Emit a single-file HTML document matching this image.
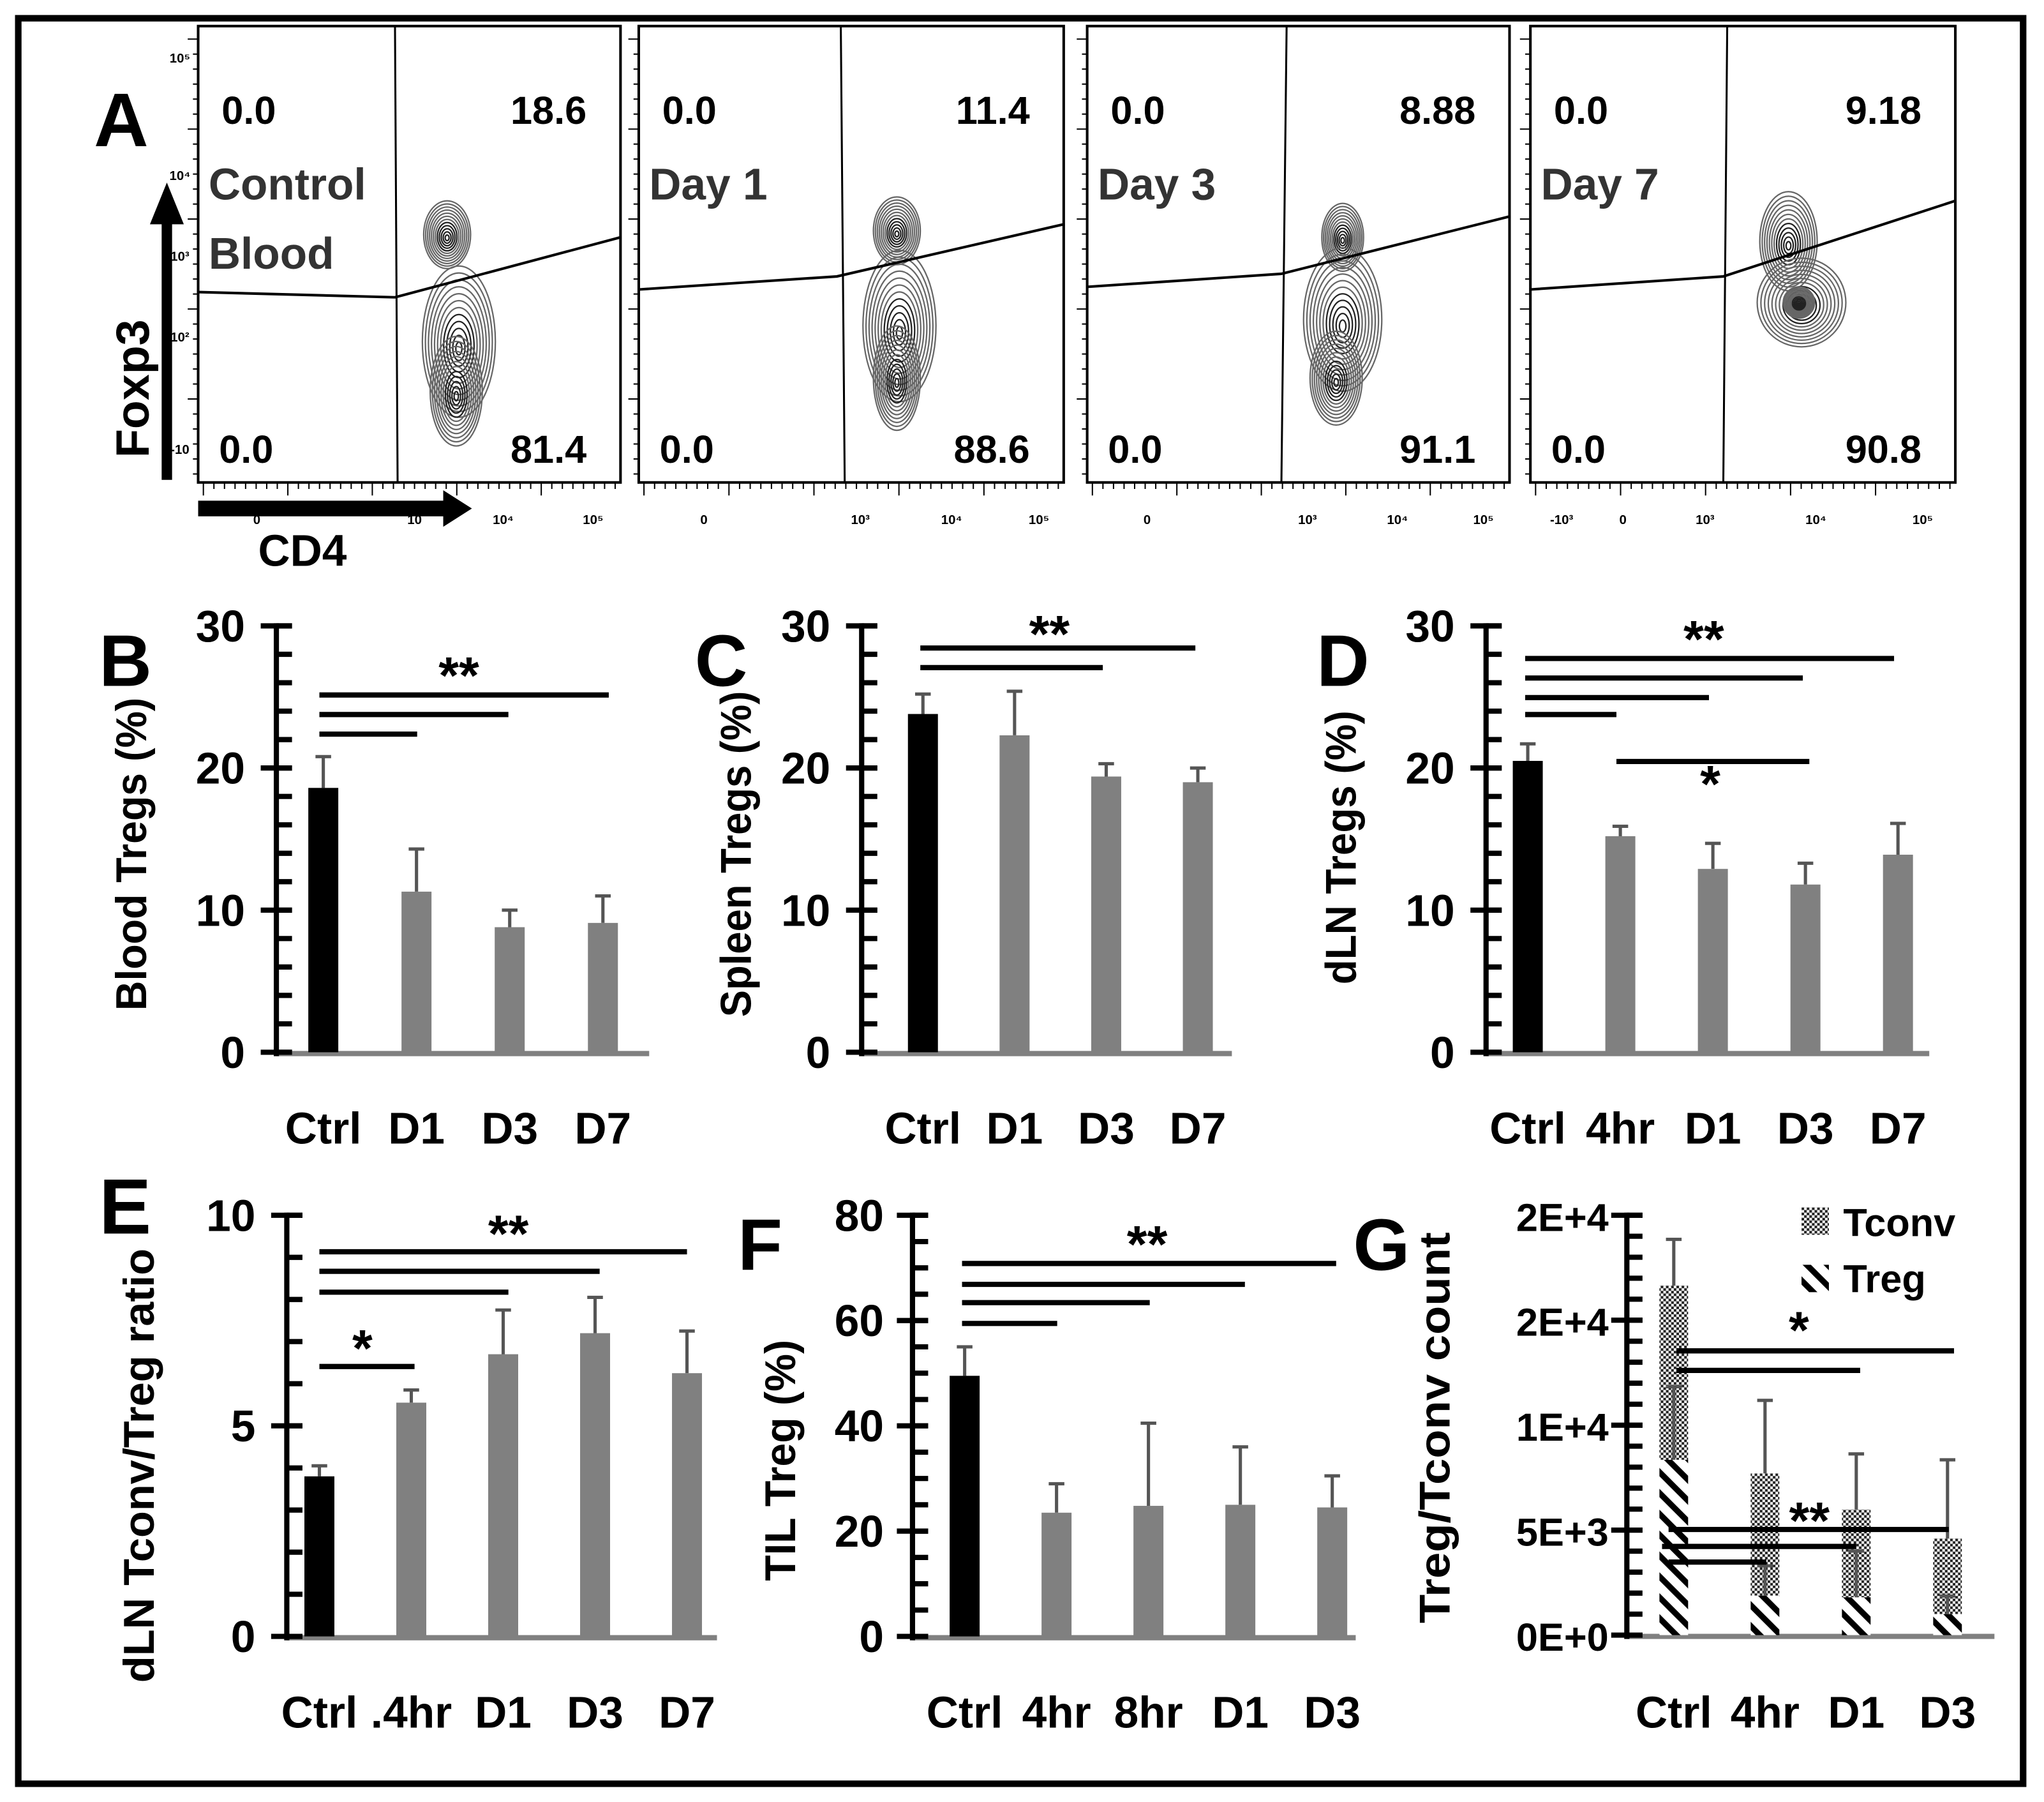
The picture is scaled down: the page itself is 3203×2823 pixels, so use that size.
<!DOCTYPE html>
<html><head><meta charset="utf-8"><style>
html,body{margin:0;padding:0;background:#fff}
svg{display:block}
text{font-family:"Liberation Sans",sans-serif;font-weight:bold}
</style></head><body>
<svg id="fig" xmlns="http://www.w3.org/2000/svg" width="3203" height="2823" viewBox="0 0 1568 1382">
<defs>
<pattern id="checker" width="4" height="4" patternUnits="userSpaceOnUse"><rect width="4" height="4" fill="#fff"/><rect width="2" height="2" fill="#222"/><rect x="2" y="2" width="2" height="2" fill="#222"/></pattern>
<pattern id="hatch" width="16" height="16" patternUnits="userSpaceOnUse"><rect width="16" height="16" fill="#fff"/><path d="M-4,-4 L20,20 M-4,12 L4,20 M12,-4 L20,4" stroke="#000" stroke-width="4.5"/></pattern>
</defs>
<rect x="14" y="14" width="1538" height="1354" fill="none" stroke="#000" stroke-width="5"/>
<g id="flow"></g>
<g id="bars"></g>
</svg>
<script>
// ---- Chart data ----
const bCats=['Ctrl','D1','D3','D7'];
const bVals=[18.6,11.3,8.8,9.1];
const bErr=[20.8,14.3,10.0,11.0];
const bTicks=[0,10,20,30];
const cCats=['Ctrl','D1','D3','D7'];
const cVals=[23.8,22.3,19.4,19.0];
const cErr=[25.2,25.4,20.3,20.0];
const cTicks=[0,10,20,30];
const dCats=['Ctrl','4hr','D1','D3','D7'];
const dVals=[20.5,15.2,12.9,11.8,13.9];
const dErr=[21.7,15.9,14.7,13.3,16.1];
const dTicks=[0,10,20,30];
const eCats=['Ctrl','.4hr','D1','D3','D7'];
const eVals=[3.8,5.55,6.7,7.2,6.25];
const eErr=[4.05,5.85,7.75,8.05,7.25];
const eTicks=[0,5,10];
const fCats=['Ctrl','4hr','8hr','D1','D3'];
const fVals=[49.5,23.5,24.8,25.0,24.5];
const fErr=[55,29,40.5,36,30.5];
const fTicks=[0,20,40,60,80];
const gCats=['Ctrl','4hr','D1','D3'];
const gTreg=[8350,1880,1800,1000];
const gTregErr=[11830,3300,4000,1860];
const gTotal=[16650,7700,5980,4600];
const gTotalErr=[18850,11180,8630,8350];
const gTicks=[0,5000,10000,15000,20000];
const gTickLabels=['0E+0','5E+3','1E+4','2E+4','2E+4'];

const NS='http://www.w3.org/2000/svg';
function mk(parent,tag,attrs,txt){const e=document.createElementNS(NS,tag);for(const k in attrs)e.setAttribute(k,attrs[k]);if(txt!==undefined)e.textContent=txt;parent.appendChild(e);return e;}
const bars=document.getElementById('bars');

function panel(o){
  const g=mk(bars,'g',{});
  
  
  const max=o.ticks[o.ticks.length-1];
  const y=v=>o.base-v/max*(o.base-o.top);
  const x=i=>o.x0+i*o.dx;
  let e=mk(g,'line',{x1:o.ax,x2:o.axEnd,y1:o.base+1,y2:o.base+1,stroke:'#808080','stroke-width':4});
  
  
  for(let v=0;v<=max+1e-9;v+=o.minor){
    e=mk(g,'line',{x1:o.ax,x2:o.ax+12,y1:y(v),y2:y(v),stroke:'#000','stroke-width':4});
    
    
  }
  o.ticks.forEach((t,i)=>{
    e=mk(g,'line',{x1:o.ax-12,x2:o.ax+12,y1:y(t),y2:y(t),stroke:'#000','stroke-width':4});
    
    
    e=mk(g,'text',{x:o.ax-o.lblOff,y:y(t)+12,'text-anchor':'end','font-size':o.tfs||34},o.tickLabels?o.tickLabels[i]:t);
    
    
  });
  e=mk(g,'line',{x1:o.ax,x2:o.ax,y1:o.top-2,y2:o.base+3,stroke:'#000','stroke-width':4});
  
  
  o.cats.forEach((c,i)=>{
    e=mk(g,'text',{x:x(i),y:o.labY,'text-anchor':'middle','font-size':34},c);
    
    
  });
  if(o.vals){
    o.vals.forEach((v,i)=>{
      const cx=x(i);
      e=mk(g,'line',{x1:cx,x2:cx,y1:y(o.err[i]),y2:y(v),stroke:'#555','stroke-width':2.5});
      
      
      e=mk(g,'line',{x1:cx-6,x2:cx+6,y1:y(o.err[i]),y2:y(o.err[i]),stroke:'#555','stroke-width':2.5});
      
      
      e=mk(g,'rect',{x:cx-11.5,y:y(v),width:23,height:o.base-y(v),fill:i==0?'#000':'#808080'});
      
      
    });
  }
  e=mk(g,'text',{x:o.letX,y:o.letY,'font-size':o.letFs||56},o.letter);
  
  
  e=mk(g,'text',{transform:`translate(${o.titleX},${o.titleY}) rotate(-90)`,'text-anchor':'middle','font-size':33,textLength:o.titleLen,lengthAdjust:'spacingAndGlyphs'},o.title);
  
  
  (o.sig||[]).forEach(s=>{
    e=mk(g,'line',{x1:s[0],x2:s[1],y1:s[2],y2:s[2],stroke:'#000','stroke-width':4});
    
    
  });
  (o.stars||[]).forEach(s=>{
    e=mk(g,'text',{x:s[0],y:s[1],'text-anchor':'middle','font-size':40},s[2]);
    
    
  });
  return {g,y,x};
}

panel({id:'b',letter:'B',letX:76,letY:526,cats:bCats,vals:bVals,err:bErr,ticks:bTicks,minor:2,ax:212,axEnd:498,top:480,base:807,x0:248,dx:71.5,labY:877,lblOff:24,
  title:'Blood Tregs (%)',titleX:112,titleY:655,titleLen:240,
  sig:[[245,320,563],[245,390,548],[245,467,533]],stars:[[352,532,'**']]});
panel({id:'c',letter:'C',letX:533,letY:526,cats:cCats,vals:cVals,err:cErr,ticks:cTicks,minor:2,ax:661,axEnd:945,top:480,base:807,x0:708,dx:70.3,labY:877,lblOff:24,
  title:'Spleen Tregs (%)',titleX:576,titleY:655,titleLen:250,
  sig:[[706,846,512],[706,917,497]],stars:[[805,500,'**']]});
panel({id:'d',letter:'D',letX:1010,letY:526,cats:dCats,vals:dVals,err:dErr,ticks:dTicks,minor:2,ax:1140,axEnd:1480,top:480,base:807,x0:1172,dx:71,labY:877,lblOff:24,
  title:'dLN Tregs (%)',titleX:1040,titleY:650,titleLen:210,
  sig:[[1170,1240,548],[1170,1311,535],[1170,1383,520],[1170,1453,505]],stars:[[1307,504,'**'],[1312,615,'*']]});
(function(){const e=mk(bars,'line',{x1:1240,x2:1388,y1:584,y2:584,stroke:'#000','stroke-width':4});

})();
panel({id:'e',letter:'E',letX:76,letY:946,letFs:60,cats:eCats,vals:eVals,err:eErr,ticks:eTicks,minor:1,ax:220,axEnd:550,top:932,base:1255,x0:245,dx:70.5,labY:1325,lblOff:24,
  title:'dLN Tconv/Treg ratio',titleX:118,titleY:1124,titleLen:333,
  sig:[[245,527,960],[245,460,975],[245,390,991],[245,318,1048]],stars:[[390,960,'**'],[278,1048,'*']]});
panel({id:'f',letter:'F',letX:566,letY:974,cats:fCats,vals:fVals,err:fErr,ticks:fTicks,minor:5,ax:700,axEnd:1040,top:932,base:1255,x0:740,dx:70.5,labY:1325,lblOff:22,
  title:'TIL Treg (%)',titleX:610,titleY:1120,titleLen:185,
  sig:[[738,1025,969],[738,955,985],[738,882,999],[738,811,1015]],stars:[[880,968,'**']]});
const G=panel({id:'g',letter:'G',letX:1038,letY:974,cats:gCats,ticks:gTicks,tickLabels:gTickLabels,tfs:30,minor:1000,ax:1248,axEnd:1530,top:932,base:1254,x0:1284,dx:70,labY:1325,lblOff:14,
  title:'Treg/Tconv count',titleX:1112,titleY:1095,titleLen:300,
  sig:[],stars:[]});
gCats.forEach((c,i)=>{
  const cx=G.x(i);
  let e=mk(G.g,'rect',{x:cx-11,y:G.y(gTotal[i]),width:22,height:G.y(gTreg[i])-G.y(gTotal[i]),fill:'url(#checker)'});
  
  
  e=mk(G.g,'rect',{x:cx-11,y:G.y(gTreg[i]),width:22,height:G.y(0)-G.y(gTreg[i]),fill:'url(#hatch)'});
  
  
  [[gTotal[i],gTotalErr[i]],[gTreg[i],gTregErr[i]]].forEach(p=>{
    e=mk(G.g,'line',{x1:cx,x2:cx,y1:G.y(p[1]),y2:G.y(p[0]),stroke:'#555','stroke-width':2.5});
    
    
    e=mk(G.g,'line',{x1:cx-6,x2:cx+6,y1:G.y(p[1]),y2:G.y(p[1]),stroke:'#555','stroke-width':2.5});
    
    
  });
});
[[1286,1499,1036],[1286,1427,1051],[1280,1495,1173],[1275,1424,1186],[1280,1355,1198]].forEach(s=>{
  const e=mk(G.g,'line',{x1:s[0],x2:s[1],y1:s[2],y2:s[2],stroke:'#000','stroke-width':4});
  
  
});
[[1380,1034,'*'],[1388,1180,'**']].forEach(s=>{
  const e=mk(G.g,'text',{x:s[0],y:s[1],'text-anchor':'middle','font-size':40},s[2]);
  
  
});
(function(){
  let e=mk(G.g,'rect',{x:1382,y:926,width:21,height:21,fill:'url(#checker)'});
  
  
  e=mk(G.g,'text',{x:1414,y:948,'font-size':30},'Tconv');
  
  
  e=mk(G.g,'rect',{x:1382,y:970,width:21,height:21,fill:'url(#hatch)'});
  
  
  e=mk(G.g,'text',{x:1414,y:991,'font-size':30},'Treg');
  
  
})();

// ---- Panel A flow plots ----
const flow=document.getElementById('flow');
const plots=[
 {x:152,w:324,vt:303,vb:305,h:[[152,224],[303,228],[476,182]],tl:'0.0',tr:'18.6',bl:'0.0',br:'81.4',lab:['Control','Blood'],
  up:[343,180,18,26],main:[352,262,28,58],tail:[350,300,20,42],xl:[['0',197],['10',318],['10⁴',386],['10⁵',455]]},
 {x:490,w:326,vt:645,vb:648,h:[[490,222],[642,212],[816,172]],tl:'0.0',tr:'11.4',bl:'0.0',br:'88.6',lab:['Day 1'],
  up:[688,177,18,26],main:[690,250,28,58],tail:[688,290,18,40],xl:[['0',540],['10³',660],['10⁴',730],['10⁵',797]]},
 {x:834,w:324,vt:987,vb:983,h:[[834,220],[983,210],[1158,166]],tl:'0.0',tr:'8.88',bl:'0.0',br:'91.1',lab:['Day 3'],
  up:[1030,182,16,26],main:[1030,245,30,55],tail:[1025,290,20,36],xl:[['0',880],['10³',1003],['10⁴',1072],['10⁵',1138]]},
 {x:1174,w:326,vt:1325,vb:1322,h:[[1174,222],[1322,212],[1500,154]],tl:'0.0',tr:'9.18',bl:'0.0',br:'90.8',lab:['Day 7'],
  up:[1372,185,22,38],main:[1382,232,34,34],tail:[1380,232,12,12],xl:[['-10³',1198],['0',1245],['10³',1308],['10⁴',1393],['10⁵',1475]]}
];
plots.forEach((p,k)=>{
  const g=mk(flow,'g',{});
  
  
  let e=mk(g,'rect',{x:p.x,y:20,width:p.w,height:350,fill:'#fff',stroke:'#000','stroke-width':2});
  
  
  [p.up,p.main,p.tail].forEach(b=>{
    for(let j=0;j<12;j++){
      const f=1-j/12;
      e=mk(g,'ellipse',{cx:b[0],cy:b[1]+(1-f)*b[3]*0.1,rx:b[2]*f,ry:b[3]*f,fill:'none',stroke:j>6?'#222':'#666','stroke-width':1.1});
      
      
    }
  });
  e=mk(g,'line',{x1:p.vt,y1:20,x2:p.vb,y2:370,stroke:'#000','stroke-width':1.5});
  
  
  e=mk(g,'polyline',{points:p.h.map(q=>q.join(',')).join(' '),fill:'none',stroke:'#000','stroke-width':2});
  
  
  [[p.tl,p.x+18,95,'start'],[p.tr,p.x+p.w-26,95,'end'],[p.bl,p.x+16,355,'start'],[p.br,p.x+p.w-26,355,'end']].forEach(t=>{
    e=mk(g,'text',{x:t[1],y:t[2],'text-anchor':t[3],'font-size':30},t[0]);
    
    
  });
  p.lab.forEach((l,j)=>{
    e=mk(g,'text',{x:p.x+8,y:153+j*53,'font-size':34,fill:'#333'},l);
    
    
  });
  for(let t=0;t<40;t++){
    const tx=p.x+4+t*p.w/40;
    e=mk(g,'line',{x1:tx,x2:tx,y1:370,y2:t%8==0?380:375,stroke:'#000','stroke-width':1});
    
    
  }
  p.xl.forEach(l=>{
    e=mk(g,'text',{x:l[1],y:402,'text-anchor':'middle','font-size':10,'font-weight':'normal'},l[0]);
    
    
  });
  for(let t=0;t<30;t++){
    const ty=30+t*11.5;
    e=mk(g,'line',{x1:p.x-(t%6==0?8:4),x2:p.x,y1:ty,y2:ty,stroke:'#000','stroke-width':1});
    
    
  }
});
[['10⁵',48],['10⁴',138],['10³',200],['10²',262],['-10',348]].forEach(l=>{
  const e=mk(flow,'text',{x:138,y:l[1],'text-anchor':'middle','font-size':10,'font-weight':'normal'},l[0]);
  
  
});
(function(){
  let e=mk(flow,'text',{x:72,y:112,'font-size':58},'A');
  
  
  e=mk(flow,'path',{d:'M124,368 L124,172 L115,172 L128,140 L141,172 L132,172 L132,368 Z',fill:'#000'});
  
  
  e=mk(flow,'text',{transform:'translate(114,298) rotate(-90)','text-anchor':'middle','font-size':36},'Foxp3');
  
  
  e=mk(flow,'path',{d:'M152,384 L340,384 L340,376 L362,390 L340,404 L340,396 L152,396 Z',fill:'#000'});
  
  
  e=mk(flow,'text',{x:198,y:434,'font-size':34},'CD4');
  
  
})();
</script>
</body></html>
